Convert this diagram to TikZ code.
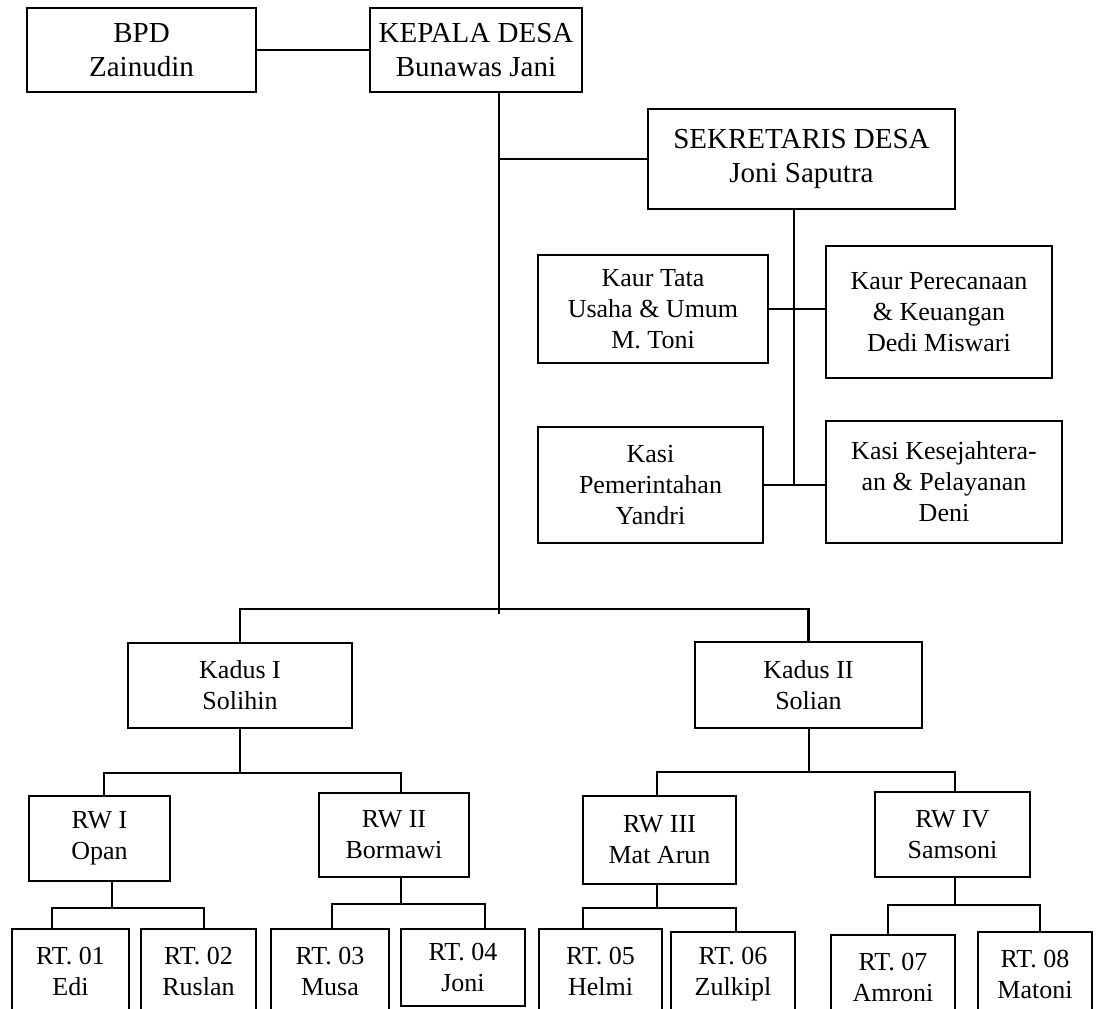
\documentclass[tikz,border=0pt]{standalone}
\usepackage{fontspec}
\setmainfont{Liberation Serif}

\begin{document}
\begin{tikzpicture}[x=1pt,y=-1pt,line width=2.2pt,
   every node/.style={draw,align=center,inner sep=0pt,
      font=\fontsize{26}{31}\selectfont},
   head/.style={font=\fontsize{29}{34}\selectfont},
   wh/.style 2 args={minimum width=#1pt,minimum height=#2pt}]
\useasboundingbox (0,0) rectangle (1096,1009);
\clip (0,0) rectangle (1096,1009);
% top level
\node[head,wh={229}{84}] (bpd) at (141.5,50) {BPD\\Zainudin};
\node[head,wh={212}{84}] (kades) at (476,50) {KEPALA DESA\\Bunawas Jani};
\node[head,wh={307}{100}] (sekdes) at (801.5,159) {SEKRETARIS DESA\\Joni Saputra};
% staff
\node[wh={230}{108}] (kaur1) at (653,309) {Kaur Tata\\Usaha \& Umum\\M. Toni};
\node[wh={226}{132}] (kaur2) at (939,312) {Kaur Perecanaan\\\& Keuangan\\Dedi Miswari};
\node[wh={225}{116}] (kasi1) at (650.5,485) {Kasi\\Pemerintahan\\Yandri};
\node[wh={236}{122}] (kasi2) at (944,482) {Kasi Kesejahtera-\\an \& Pelayanan\\Deni};
% dusun
\node[wh={224}{85}] (kadus1) at (240,685.5) {Kadus I\\Solihin};
\node[wh={227}{86}] (kadus2) at (808.5,685) {Kadus II\\Solian};
% rw
\node[wh={141}{85}] (rw1) at (99.5,838.5) {RW I\\Opan};
\node[wh={150}{84}] (rw2) at (394,835) {RW II\\Bormawi};
\node[wh={153}{88}] (rw3) at (659.5,840) {RW III\\Mat Arun};
\node[wh={155}{85}] (rw4) at (952.5,834.5) {RW IV\\Samsoni};
% rt
\node[wh={117}{84}] (rt1) at (70.5,971) {RT. 01\\Edi};
\node[wh={115}{84}] (rt2) at (198.5,971) {RT. 02\\Ruslan};
\node[wh={118}{84}] (rt3) at (330,971) {RT. 03\\Musa};
\node[wh={124}{77}] (rt4) at (463,967.5) {RT. 04\\Joni};
\node[wh={123}{84}] (rt5) at (600.5,971) {RT. 05\\Helmi};
\node[wh={124}{84}] (rt6) at (733,974) {RT. 06\\Zulkipl};
\node[wh={124}{84}] (rt7) at (893,977) {RT. 07\\Amroni};
\node[wh={114}{84}] (rt8) at (1035,974) {RT. 08\\Matoni};

\coordinate (spine) at (499,614);
\coordinate (kdbar) at (499,609);
\coordinate (sekstem) at (794,485);
\draw (bpd) -- (kades);
\draw (kades.south -| spine) -- (spine);
\draw (sekdes.west) -- (sekdes.west -| spine);
\draw (sekdes.south -| sekstem) -- (sekstem);
\draw (kaur1.east) -- (kaur1.east -| kaur2.west);
\draw (kasi1.east) -- (kasi1.east -| kasi2.west);
\draw (kadus1.north) |- (kdbar) -| (kadus2.north);
% brackets down to rw and rt
\foreach \up/\sx/\by/\lx/\rx/\ca/\cb in {
   kadus1/240/773/104/401/rw1/rw2,
   kadus2/809/772/657/955/rw3/rw4,
   rw1/112/908/52/204/rt1/rt2,
   rw2/401/904/332/485/rt3/rt4,
   rw3/657/908/583/736/rt5/rt6,
   rw4/955/905/888/1040/rt7/rt8}{
  \coordinate (stem) at (\sx,\by);
  \coordinate (bl) at (\lx,\by);
  \coordinate (br) at (\rx,\by);
  \draw (stem |- \up.south) -- (stem);
  \draw (bl |- \ca.north) -- (bl) -- (br) -- (br |- \cb.north);
}
\end{tikzpicture}
\end{document}
